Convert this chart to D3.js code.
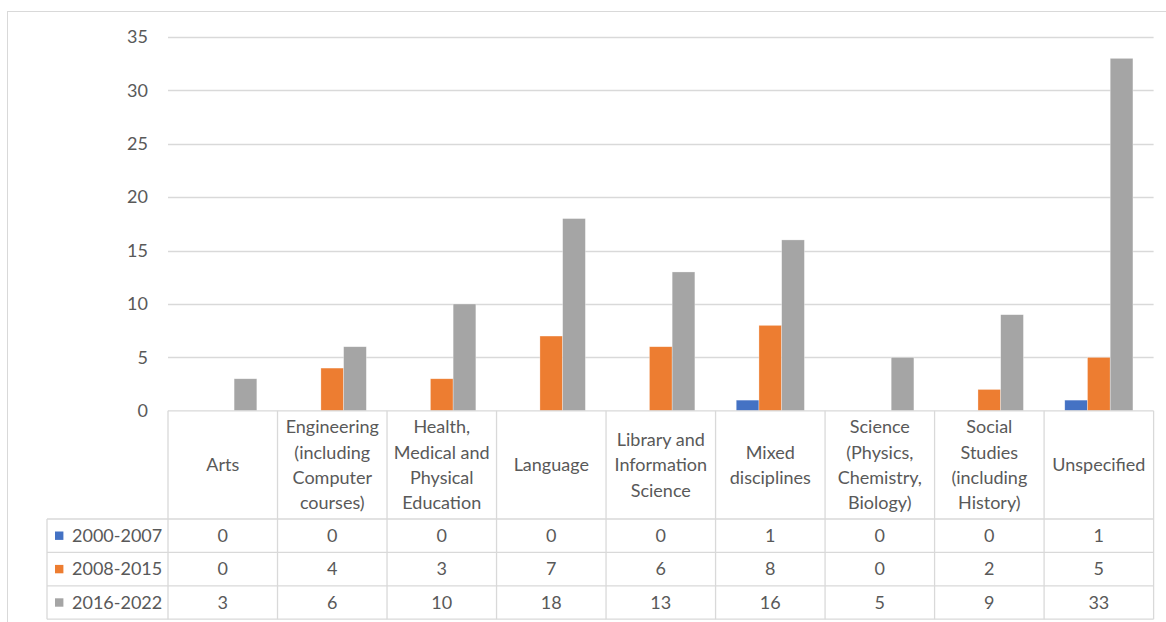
<!DOCTYPE html>
<html>
<head>
<meta charset="utf-8">
<script src="https://cdn.jsdelivr.net/npm/d3@7"></script>
<style>
  html, body { margin: 0; padding: 0; background: #fff; }
  svg { display: block; font-family: Lato, "Open Sans", sans-serif; }
</style>
</head>
<body>
<svg id="chart" width="1166" height="622"></svg>
<script>
// Subject areas (header lines of the data table)
const categories = [
  "Arts",
  "Engineering\n(including\nComputer\ncourses)",
  "Health,\nMedical and\nPhysical\nEducation",
  "Language",
  "Library and\nInformation\nScience",
  "Mixed\ndisciplines",
  "Science\n(Physics,\nChemistry,\nBiology)",
  "Social\nStudies\n(including\nHistory)",
  "Unspecified"
];
const seriesNames = ["2000-2007", "2008-2015", "2016-2022"];
const values2000_2007 = [0, 0, 0, 0, 0, 1, 0, 0, 1];
const values2008_2015 = [0, 4, 3, 7, 6, 8, 0, 2, 5];
const values2016_2022 = [3, 6, 10, 18, 13, 16, 5, 9, 33];
const seriesColors = ["#4472C4", "#ED7D31", "#A5A5A5"];
const yTicks = [0, 5, 10, 15, 20, 25, 30, 35];

const seriesValues = [values2000_2007, values2008_2015, values2016_2022];

const svg = d3.select("#chart");
const textColor = "#595959";
const lineColor = "#d9d9d9";
const fontSize = 18;

// Layout
const plotLeft = 168, plotRight = 1153.6;
const plotTop = 37, plotBottom = 410.8;
const headerBottom = 519;
const rowHeight = 33.4;
const rowLabelLeft = 47;

// Outer chart frame
svg.append("rect")
  .attr("x", 7.5).attr("y", 11.5)
  .attr("width", 1170).attr("height", 640)
  .attr("fill", "none").attr("stroke", lineColor).attr("stroke-width", 1);

const x = d3.scaleBand().domain(categories).range([plotLeft, plotRight]).padding(0);
const xs = d3.scaleBand().domain(seriesNames).range([0, x.bandwidth()])
  .paddingInner(0).paddingOuter(0.91);
const y = d3.scaleLinear().domain([0, 35]).range([plotBottom, plotTop]);

// Gridlines
svg.append("g")
  .selectAll("line")
  .data(yTicks.filter(d => d > 0))
  .join("line")
  .attr("x1", plotLeft).attr("x2", plotRight)
  .attr("y1", d => Math.round(y(d)) + 0.5).attr("y2", d => Math.round(y(d)) + 0.5)
  .attr("stroke", lineColor).attr("stroke-width", 1.3);

// Y axis labels
const yAxis = d3.axisLeft(y).tickValues(yTicks).tickSize(0).tickPadding(0);
const yAxisG = svg.append("g")
  .attr("transform", `translate(${148},0)`)
  .call(yAxis);
yAxisG.select(".domain").remove();
yAxisG.selectAll("text")
  .attr("fill", textColor)
  .style("font-size", fontSize + "px")
  .style("font-family", "Lato, 'Open Sans', sans-serif");

// Bars
const groups = svg.append("g")
  .selectAll("g")
  .data(seriesNames)
  .join("g")
  .attr("fill", (d, i) => seriesColors[i]);

groups.selectAll("rect")
  .data((s, si) => categories.map((c, ci) => ({ s, c, v: seriesValues[si][ci] })))
  .join("rect")
  .attr("x", d => x(d.c) + xs(d.s))
  .attr("width", xs.bandwidth())
  .attr("y", d => y(d.v))
  .attr("height", d => y(0) - y(d.v))
  .attr("stroke", "#ffffff")
  .attr("stroke-opacity", 0.5)
  .attr("stroke-width", 0.6);

// Data table
const table = svg.append("g").attr("stroke", lineColor).attr("stroke-width", 1.3);
const rowTops = seriesNames.map((s, i) => headerBottom + i * rowHeight);
const tableBottom = headerBottom + seriesNames.length * rowHeight;

// Horizontal rules
table.append("line")
  .attr("x1", plotLeft).attr("x2", plotRight)
  .attr("y1", plotBottom).attr("y2", plotBottom);
[...rowTops, tableBottom].forEach(yy => {
  table.append("line")
    .attr("x1", rowLabelLeft).attr("x2", plotRight)
    .attr("y1", yy).attr("y2", yy);
});
// Vertical rules
table.append("line")
  .attr("x1", rowLabelLeft).attr("x2", rowLabelLeft)
  .attr("y1", headerBottom).attr("y2", tableBottom);
categories.forEach(c => {
  table.append("line")
    .attr("x1", x(c)).attr("x2", x(c))
    .attr("y1", plotBottom).attr("y2", tableBottom);
});
table.append("line")
  .attr("x1", plotRight).attr("x2", plotRight)
  .attr("y1", plotBottom).attr("y2", tableBottom);

// Header labels
const lineGap = 25.4;
const headerMid = (plotBottom + headerBottom) / 2;
const headers = svg.append("g")
  .attr("fill", textColor)
  .style("font-size", fontSize + "px")
  .attr("text-anchor", "middle");
categories.forEach(c => {
  const lines = c.split("\n");
  const t = headers.append("text")
    .attr("x", x(c) + x.bandwidth() / 2);
  lines.forEach((ln, i) => {
    t.append("tspan")
      .attr("x", x(c) + x.bandwidth() / 2)
      .attr("y", headerMid + (i - (lines.length - 1) / 2) * lineGap)
      .attr("dy", "0.35em")
      .text(ln);
  });
});

// Row labels with legend keys
const rows = svg.append("g")
  .attr("fill", textColor)
  .style("font-size", fontSize + "px");
seriesNames.forEach((s, i) => {
  const cy = rowTops[i] + rowHeight / 2;
  rows.append("rect")
    .attr("x", 55).attr("y", cy - 4.2)
    .attr("width", 8.4).attr("height", 8.4)
    .attr("fill", seriesColors[i]);
  rows.append("text")
    .attr("x", 72).attr("y", cy).attr("dy", "0.35em")
    .text(s);
  categories.forEach((c, ci) => {
    rows.append("text")
      .attr("x", x(c) + x.bandwidth() / 2)
      .attr("y", cy).attr("dy", "0.35em")
      .attr("text-anchor", "middle")
      .text(seriesValues[i][ci]);
  });
});
</script>
</body>
</html>
